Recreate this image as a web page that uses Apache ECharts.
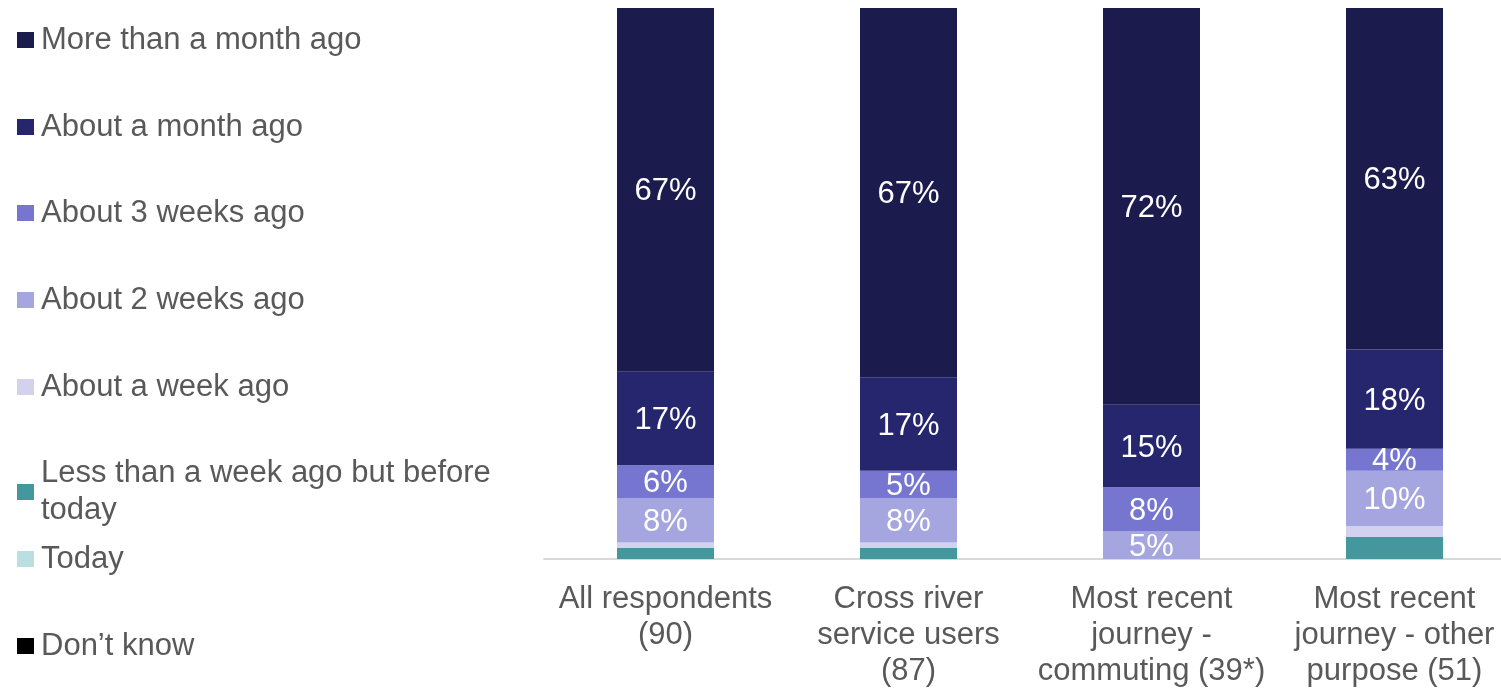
<!DOCTYPE html>
<html>
<head>
<meta charset="utf-8">
<script src="https://cdn.jsdelivr.net/npm/echarts@6/dist/echarts.min.js"></script>
<style>
  html, body { margin: 0; padding: 0; background: #ffffff; }
  #chart { width: 1501px; height: 688px; }
</style>
</head>
<body>
<div id="chart"></div>
<script>
// Groups of respondents (x axis)
const categories = [
  'All respondents\n(90)',
  'Cross river\nservice users\n(87)',
  'Most recent\njourney -\ncommuting (39*)',
  'Most recent\njourney - other\npurpose (51)'
];

// Answer options, legend order (top to bottom)
const answers = [
  'More than a month ago',
  'About a month ago',
  'About 3 weeks ago',
  'About 2 weeks ago',
  'About a week ago',
  'Less than a week ago but before today',
  'Today',
  'Don\u2019t know'
];

// Percentages per answer, one value per group
const moreThanMonth = [67, 67, 72, 63];
const aboutMonth    = [17, 17, 15, 18];
const about3Weeks   = [6, 5, 8, 4];
const about2Weeks   = [8, 8, 5, 10];
const aboutWeek     = [1, 1, 0, 2];
const lessThanWeek  = [2, 2, 0, 4];
const today         = [0, 0, 0, 0];
const dontKnow      = [0, 0, 0, 0];

const seriesValues = [moreThanMonth, aboutMonth, about3Weeks, about2Weeks,
                      aboutWeek, lessThanWeek, today, dontKnow];

const colors = ['#1b1b4e', '#26266f', '#7676d1', '#a5a5df',
                '#d2d2ef', '#44979c', '#b9dfe0', '#000000'];

// Only these answers carry a value label inside the bar
const labelled = { 0: true, 1: true, 2: true, 3: true };

const fontFamily = 'Arial, "Liberation Sans", sans-serif';

// Build stacked series, bottom of the stack first
const series = [];
for (let i = answers.length - 1; i >= 0; i--) {
  series.push({
    name: answers[i],
    type: 'bar',
    stack: 'total',
    barWidth: 97,
    data: seriesValues[i],
    itemStyle: { color: colors[i] },
    label: {
      show: !!labelled[i],
      position: 'inside',
      offset: [0, 2],
      color: '#ffffff',
      fontSize: 31,
      fontFamily: fontFamily,
      formatter: p => p.value > 0 ? p.value + '%' : ''
    }
  });
}

// One legend block per answer so each sits on its own row
const legendCenters = [40, 127, 213, 300, 387, 492, 559, 646];
const legends = answers.map((name, i) => {
  const h = (i === 5) ? 74 : 37;
  return {
    data: [name],
    left: 17,
    top: legendCenters[i] - h / 2,
    padding: 0,
    orient: 'vertical',
    icon: 'rect',
    itemWidth: 17,
    itemHeight: 16,
    selectedMode: false,
    formatter: n => n === 'Less than a week ago but before today'
      ? 'Less than a week ago but before\ntoday' : n,
    textStyle: {
      color: '#595959',
      fontSize: 31,
      fontFamily: fontFamily,
      lineHeight: 37,
      padding: [0, 0, 0, 2]
    }
  };
});

const chart = echarts.init(document.getElementById('chart'));
chart.setOption({
  animation: false,
  backgroundColor: '#ffffff',
  legend: legends,
  grid: {
    left: 544, width: 972, top: 8, bottom: 129,
    containLabel: false,
    outerBoundsMode: 'none'
  },
  xAxis: {
    type: 'category',
    data: categories,
    axisLine: { show: true, lineStyle: { color: '#d9d9d9', width: 2 } },
    axisTick: { show: false },
    axisLabel: {
      color: '#595959',
      fontSize: 31,
      fontFamily: fontFamily,
      lineHeight: 36,
      margin: 22,
      interval: 0
    }
  },
  yAxis: {
    type: 'value',
    min: 0,
    max: 100,
    show: false,
    splitLine: { show: false }
  },
  series: series
});
</script>
</body>
</html>
